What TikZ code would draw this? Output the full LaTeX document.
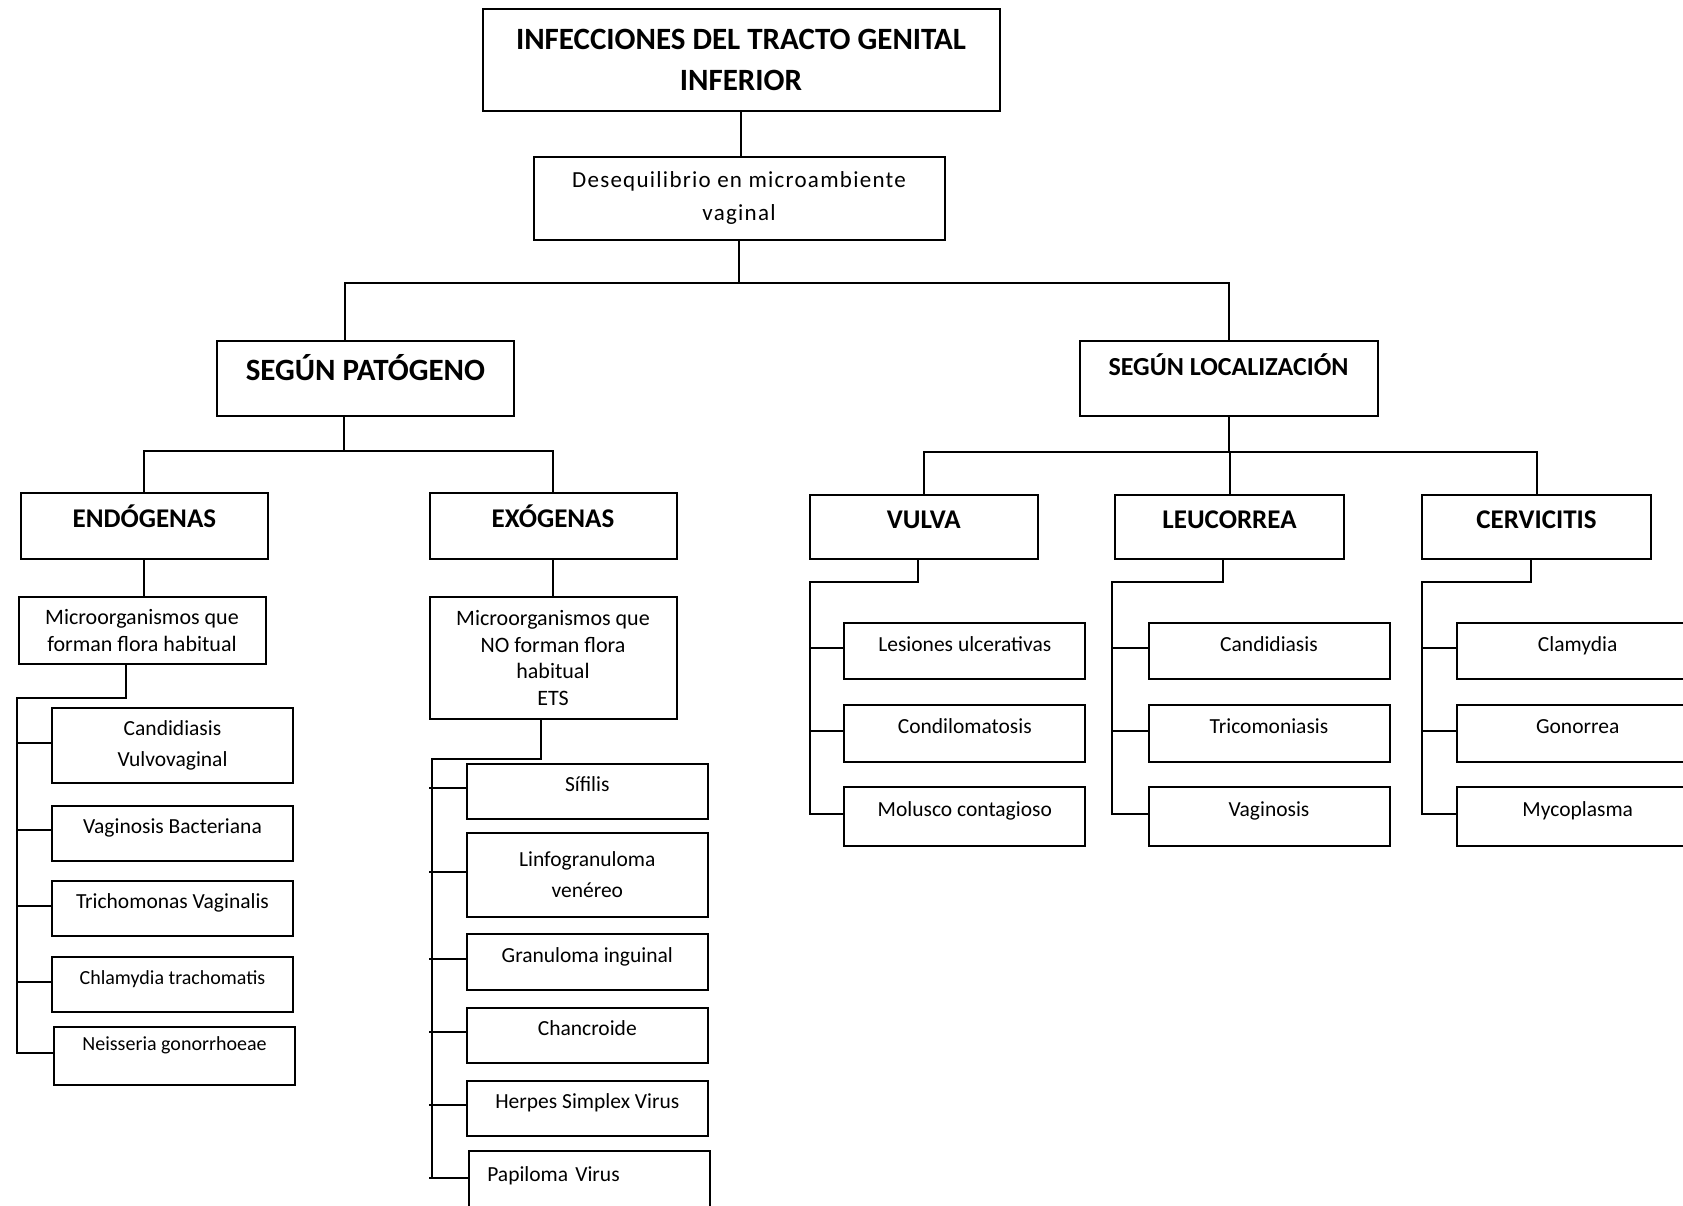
\documentclass[tikz,border=0pt]{standalone}
\usepackage{fontspec}
\setmainfont{Carlito}
\newfontfamily\spacedfont[LetterSpace=5.5]{Carlito}

\begin{document}
\begin{tikzpicture}[x=1pt, y=-1pt,
    box/.style={draw, line width=2pt, inner sep=0pt, align=center},
    catbox/.style={box, minimum width=247pt, minimum height=66.6pt,
        font=\bfseries\fontsize{27}{32}\selectfont, text height=17.5pt, text depth=14.5pt},
    microbox/.style={box, minimum width=247pt, font=\fontsize{22}{26.5}\selectfont},
    leafbase/.style={box, minimum width=241pt, minimum height=55pt,
        font=\fontsize{21.5}{31}\selectfont},
    leafbox/.style={leafbase, text height=14pt, text depth=14pt},
    linkline/.style={line width=2pt}]

    \useasboundingbox (0,0) rectangle (1683,1205);

    \node[box, minimum width=517pt, minimum height=102pt,
        font=\bfseries\fontsize{31}{41.7}\selectfont] (itgi) at (741,60)
        {INFECCIONES DEL TRACTO GENITAL\\INFERIOR};
    \node[box, minimum width=411pt, minimum height=83pt,
        font=\spacedfont\fontsize{23}{33}\selectfont] (deseq) at (739,198)
        {Desequilibrio en microambiente\\vaginal};

    \node[catbox, minimum width=297pt, minimum height=75pt,
        font=\bfseries\fontsize{31}{36}\selectfont, text height=20pt, text depth=17pt]
        (pat) at (365.4,378.5) {SEGÚN PATÓGENO};
    \node[catbox, minimum width=298pt, minimum height=75pt,
        font=\bfseries\fontsize{26}{31}\selectfont, text height=16.5pt, text depth=23.5pt]
        (loc) at (1228.5,378.5) {SEGÚN LOCALIZACIÓN};

    \node[catbox] (endo) at (144.4,526) {ENDÓGENAS};
    \node[catbox] (exo) at (553,526) {EXÓGENAS};
    \node[catbox, minimum width=228.5pt, minimum height=64.6pt] (vulva) at (923.8,527) {VULVA};
    \node[catbox, minimum width=228.5pt, minimum height=64.6pt] (leuc) at (1229.5,527) {LEUCORREA};
    \node[catbox, minimum width=228.5pt, minimum height=64.6pt] (cerv) at (1536.5,527) {CERVICITIS};

    \node[microbox, minimum height=67pt] (mhab) at (142,630.4)
        {Microorganismos que\\forman flora habitual};
    \node[microbox, minimum height=122.6pt] (mno) at (553,658)
        {Microorganismos que\\NO forman flora\\habitual\\ETS};

    \node[leafbase, minimum height=75pt] (cand) at (172.5,745.5) {Candidiasis\\Vulvovaginal};
    \node[leafbox] (vagb) at (172.5,833.3) {Vaginosis Bacteriana};
    \node[leafbox] (trich) at (172.5,908.5) {Trichomonas Vaginalis};
    \node[leafbox, font=\fontsize{20}{24}\selectfont] (chla) at (172.5,984.5) {Chlamydia trachomatis};
    \node[leafbox, minimum height=58pt, text depth=26pt, font=\fontsize{20}{24}\selectfont]
        (neis) at (174.5,1056) {Neisseria gonorrhoeae};

    \node[leafbox] (sif) at (587.3,791) {Sífilis};
    \node[leafbase, minimum height=84pt] (linfo) at (587.3,874.6) {Linfogranuloma\\venéreo};
    \node[leafbox, minimum height=56pt] (gran) at (587.3,962) {Granuloma inguinal};
    \node[leafbox] (chanc) at (587.3,1035) {Chancroide};
    \node[leafbox] (herp) at (587.3,1108) {Herpes Simplex Virus};
    \node[leafbox, minimum height=60pt, text width=204pt, align=left]
        (papi) at (589.3,1181) {Papiloma Virus};

    \node[leafbox, minimum height=56.5pt] (lesi) at (964.8,651) {Lesiones ulcerativas};
    \node[leafbox, minimum height=56.5pt] (cond) at (964.8,733.5) {Condilomatosis};
    \node[leafbox, minimum height=58.7pt] (molu) at (964.8,816.7) {Molusco contagioso};

    \node[leafbox, minimum height=56.5pt] (candi) at (1269,651) {Candidiasis};
    \node[leafbox, minimum height=56.5pt] (trico) at (1269,733.5) {Tricomoniasis};
    \node[leafbox, minimum height=58.7pt] (vagi) at (1269,816.7) {Vaginosis};

    \node[leafbox, minimum height=56.5pt] (clam) at (1577.7,651) {Clamydia};
    \node[leafbox, minimum height=56.5pt] (gono) at (1577.7,733.5) {Gonorrea};
    \node[leafbox, minimum height=58.7pt] (myco) at (1577.7,816.7) {Mycoplasma};

    \coordinate (topbus) at (740,283.3);
    \coordinate (patbus) at (344,450.5);
    \coordinate (locbus) at (1229,452.3);

    \draw[linkline] (itgi.south) -- (itgi.south |- deseq.north);
    \draw[linkline] (deseq.south) -- (deseq.south |- topbus);
    \draw[linkline] ([xshift=-20pt]pat.north) |- (topbus) -| (loc.north);

    \draw[linkline] ([xshift=-21.4pt]pat.south) -- (patbus);
    \draw[linkline] (endo.north) |- (patbus) -| (exo.north);
    \draw[linkline] (loc.south) -- (loc.south |- locbus);
    \draw[linkline] (vulva.north) |- (locbus) -| (cerv.north);
    \draw[linkline] (leuc.north) -- (leuc.north |- locbus);

    \draw[linkline] (endo.south) -- (endo.south |- mhab.north);
    \draw[linkline] (exo.south) -- (exo.south |- mno.north);

    \coordinate (endobus) at (17,698);
    \draw[linkline] ([xshift=-16pt]mhab.south) |- (endobus) |- ([yshift=3pt]neis.west);
    \foreach \n in {cand,vagb,trich,chla}
        \draw[linkline] ([yshift=3pt]endobus |- \n.west) -- ([yshift=3pt]\n.west);

    \coordinate (exobus) at (432,759);
    \draw[linkline] ([xshift=-12.5pt]mno.south) |- (exobus) |- ([yshift=3pt]papi.west);
    \foreach \n in {sif,linfo,gran,chanc,herp,papi}
        \draw[linkline] ([xshift=-3pt,yshift=3pt]exobus |- \n.west) -- ([yshift=3pt]\n.west);

    \coordinate (vulvabus) at (809.5,581.7);
    \draw[linkline] ([xshift=-5.8pt]vulva.south) |- (vulvabus) |- ([yshift=3pt]molu.west);
    \foreach \n in {lesi,cond}
        \draw[linkline] ([yshift=3pt]vulvabus |- \n.west) -- ([yshift=3pt]\n.west);

    \coordinate (leucbus) at (1111.8,581.7);
    \draw[linkline] ([xshift=-7pt]leuc.south) |- (leucbus) |- ([yshift=3pt]vagi.west);
    \foreach \n in {candi,trico}
        \draw[linkline] ([yshift=3pt]leucbus |- \n.west) -- ([yshift=3pt]\n.west);

    \coordinate (cervbus) at (1422.3,581.7);
    \draw[linkline] ([xshift=-5.7pt]cerv.south) |- (cervbus) |- ([yshift=3pt]myco.west);
    \foreach \n in {clam,gono}
        \draw[linkline] ([yshift=3pt]cervbus |- \n.west) -- ([yshift=3pt]\n.west);

\end{tikzpicture}
\end{document}
